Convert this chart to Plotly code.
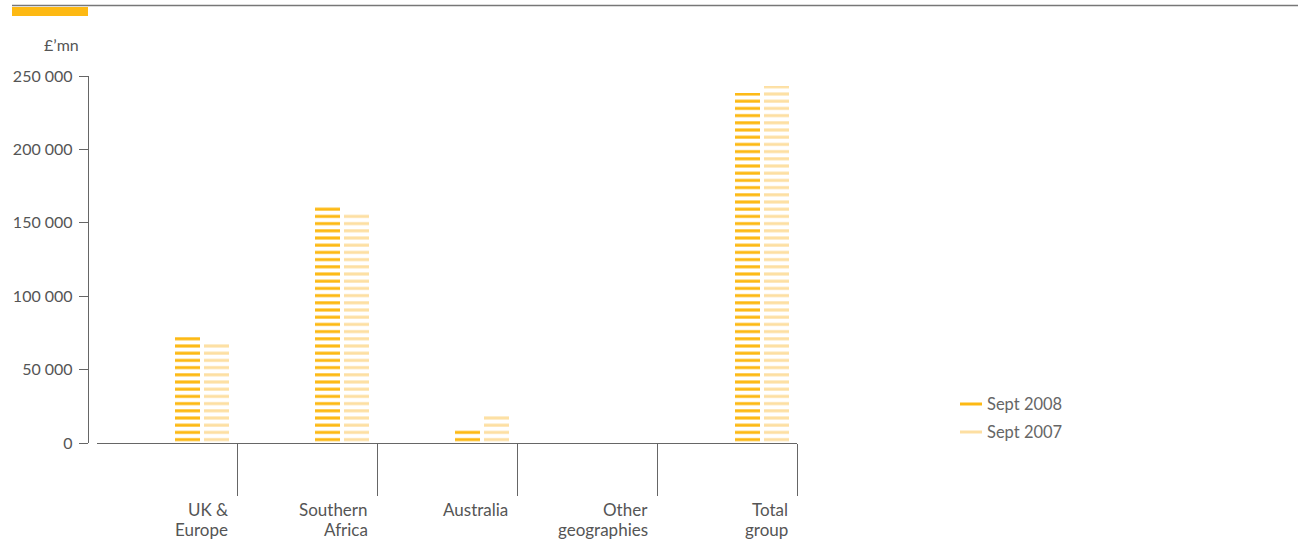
import plotly.graph_objects as go

categories = ["UK &<br>Europe", "Southern<br>Africa", "Australia", "Other<br>geographies", "Total<br>group"]
sept_2008 = [74000, 161000, 11000, 0, 238500]
sept_2007 = [68500, 157000, 19500, 0, 243500]
series_names = ["Sept 2008", "Sept 2007"]
y_tickvals = [0, 50000, 100000, 150000, 200000, 250000]
y_ticktext = ["0", "50 000", "100 000", "150 000", "200 000", "250 000"]

C08 = "#FDB913"
C07 = "#FDDFA2"
GREY = "#666666"
TXT = "#555555"
FONT = "Lato, 'Open Sans', sans-serif"

# pixel geometry
W, H = 1298, 548
L, R, T, B = 88, 797, 76, 443
PW, PH = R - L, B - T


def xp(px):
    return (px - L) / PW


def yp(py):
    return (B - py) / PH


xpos = list(range(len(categories)))
bw = 25 / 140

fig = go.Figure()
for vals, col, off, name in [(sept_2008, C08, 78 / 140, series_names[0]),
                              (sept_2007, C07, 107 / 140, series_names[1])]:
    fig.add_trace(go.Bar(
        x=xpos, y=vals, width=bw, offset=off, name=name, showlegend=False,
        marker=dict(color=col, line=dict(width=0),
                    pattern=dict(shape="-", fgcolor=col, bgcolor="white",
                                 size=7.2, solidity=0.42, fillmode="replace")),
        hovertemplate="%{y}<extra>" + name + "</extra>",
    ))

fig.update_layout(
    width=W, height=H, autosize=False,
    margin=dict(l=L, r=W - R, t=T, b=H - B, pad=0),
    paper_bgcolor="white", plot_bgcolor="white",
    font=dict(family=FONT, size=16, color=TXT),
    bargap=0,
    xaxis=dict(range=[0, 5], domain=[9 / PW, 1], showgrid=False, zeroline=False,
               showline=True, linecolor=GREY, linewidth=1,
               tickmode="array", tickvals=[1, 2, 3, 4, 5], ticktext=["", "", "", "", ""],
               ticks="outside", ticklen=52, tickcolor=GREY, tickwidth=1.3,
               fixedrange=True),
    yaxis=dict(range=[0, 250000], showgrid=False, zeroline=False,
               anchor="free", position=0,
               showline=True, linecolor=GREY, linewidth=1.3,
               tickmode="array", tickvals=y_tickvals, ticktext=y_ticktext,
               ticks="outside", ticklen=9, tickcolor=GREY, tickwidth=1,
               ticklabelstandoff=3,
               tickfont=dict(size=16, color=TXT), fixedrange=True),
    showlegend=False,
)

shapes = [
    dict(type="line", xref="paper", yref="paper", x0=xp(12), x1=xp(1298), y0=yp(5.5), y1=yp(5.5),
         line=dict(color="#777777", width=1.5)),
    dict(type="rect", xref="paper", yref="paper", x0=xp(12), x1=xp(88), y0=yp(7), y1=yp(16),
         fillcolor=C08, line=dict(width=0)),
    dict(type="line", xref="paper", yref="paper", x0=xp(960), x1=xp(982), y0=yp(404), y1=yp(404),
         line=dict(color=C08, width=3)),
    dict(type="line", xref="paper", yref="paper", x0=xp(960), x1=xp(982), y0=yp(432), y1=yp(432),
         line=dict(color=C07, width=3)),
]

annotations = [
    dict(text="£’mn", xref="paper", yref="paper", x=xp(81), y=yp(44), xanchor="right", yanchor="middle",
         showarrow=False, font=dict(size=16, color=TXT)),
    dict(text=series_names[0], xref="paper", yref="paper", x=xp(985), y=yp(404), xanchor="left",
         yanchor="middle", showarrow=False, font=dict(size=16.5, color=GREY)),
    dict(text=series_names[1], xref="paper", yref="paper", x=xp(985), y=yp(432), xanchor="left",
         yanchor="middle", showarrow=False, font=dict(size=16.5, color=GREY)),
]
for i, cat in enumerate(categories):
    for j, line in enumerate(cat.split("<br>")):
        annotations.append(dict(text=line, xref="x", yref="paper", x=i + 1, xshift=-7,
                                y=yp(510 + 19 * j), xanchor="right", yanchor="middle", align="right",
                                showarrow=False, font=dict(size=17, color=TXT)))

fig.update_layout(shapes=shapes, annotations=annotations)
fig.write_html("out.html", config={"displayModeBar": False},
               post_script="document.body.style.margin='0';document.body.style.overflow='hidden';")
